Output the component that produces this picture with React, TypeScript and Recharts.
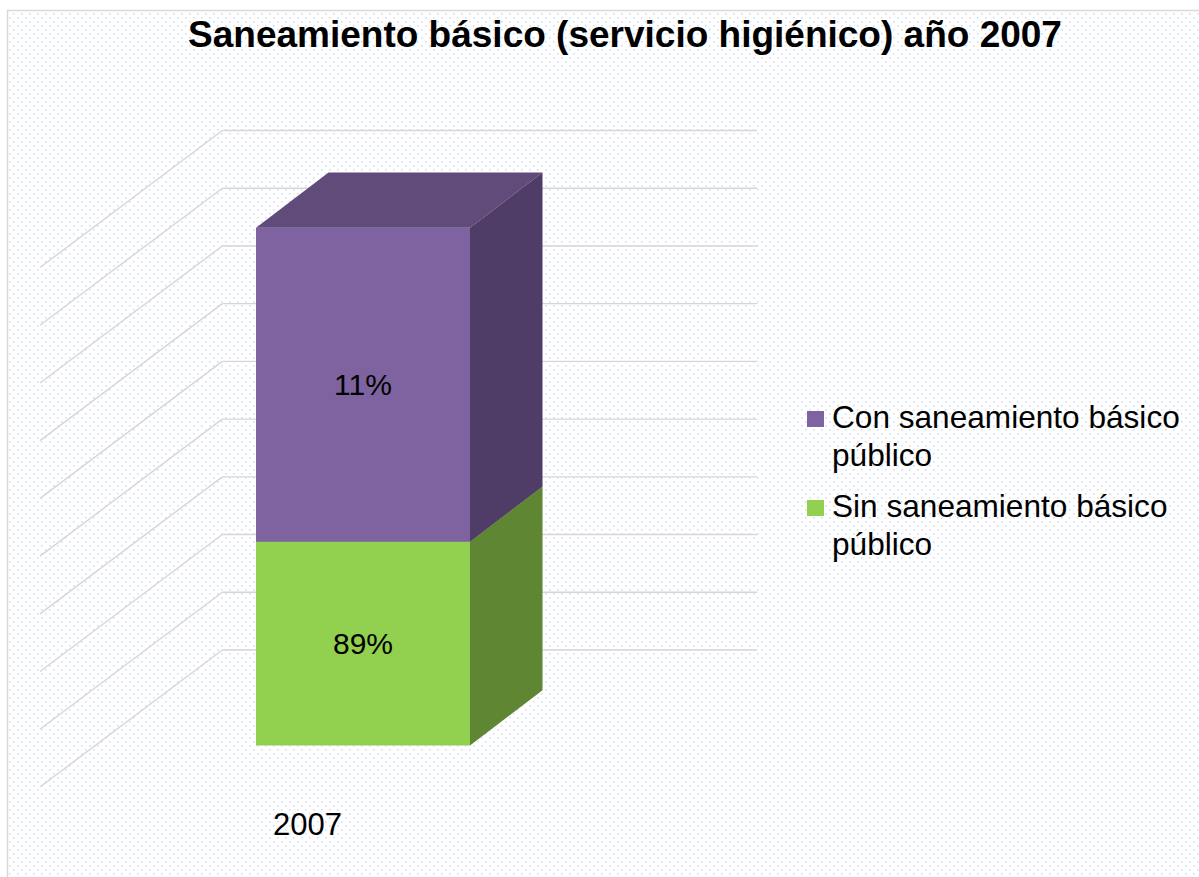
import { BarChart, Bar, XAxis, YAxis, CartesianGrid, LabelList, Legend } from "recharts";

const categories = ["2007"];
const sinValues = [35.3];
const conValues = [54.4];
const sinLabels = ["89%"];
const conLabels = ["11%"];
const seriesNames = ["Sin saneamiento básico público", "Con saneamiento básico público"];
const yTicks = [0, 10, 20, 30, 40, 50, 60, 70, 80, 90];

const data = categories.map((c, i) => ({
    year: c,
    sin: sinValues[i],
    con: conValues[i],
    sinLabel: sinLabels[i],
    conLabel: conLabels[i],
}));

const FONT = '"Liberation Sans", Arial, sans-serif';
const W = 1199;
const H = 877;

// 3d offsets (oblique projection, ratio 0.75)
const BAR_DX = 72.5;
const BAR_DY = 55.3;
const BACK_DX = 127.3;
const BACK_DY = 95.5;
const FRONT_DX = 55;
const FRONT_DY = 41.5;

const GREEN = { front: "#92D050", top: "#74A840", side: "#5F8633" };
const PURPLE = { front: "#7F63A0", top: "#604B7B", side: "#4F3D67" };

function Box3D(props: any) {
    const { x, y, width, height, colors } = props;
    const r = x + width;
    const b = y + height;
    return (
        <g>
            <rect x={x} y={y} width={width} height={height} fill={colors.front} />
            <polygon
                points={`${x},${y} ${r},${y} ${r + BAR_DX},${y - BAR_DY} ${x + BAR_DX},${y - BAR_DY}`}
                fill={colors.top}
            />
            <polygon
                points={`${r},${y} ${r + BAR_DX},${y - BAR_DY} ${r + BAR_DX},${b - BAR_DY} ${r},${b}`}
                fill={colors.side}
            />
        </g>
    );
}

function GridLine(props: any) {
    const { x1, x2, y1 } = props;
    const by = y1 - BACK_DY;
    return (
        <g key={props.key}>
            <line x1={x1 + BACK_DX} y1={by} x2={x2 + BACK_DX} y2={by} stroke="#d6d6d6" strokeWidth={1.4} />
            <line x1={x1 + BACK_DX} y1={by} x2={x1 - FRONT_DX} y2={y1 + FRONT_DY} stroke="#d6d6d6" strokeWidth={1.4} />
        </g>
    );
}

function YearTick(props: any) {
    const { x, y, payload } = props;
    return (
        <text x={x - FRONT_DX} y={y + 89.5} textAnchor="middle" fontSize={31} fontFamily={FONT} fill="#000">
            {payload.value}
        </text>
    );
}

function LegendBox() {
    const items = [
        { name: seriesNames[1], color: PURPLE.front },
        { name: seriesNames[0], color: GREEN.front },
    ];
    return (
        <div style={{ fontFamily: FONT, fontSize: 31.6, lineHeight: "38px", color: "#000" }}>
            {items.map((it, i) => (
                <div key={i} style={{ display: "flex", marginBottom: 13 }}>
                    <div style={{ width: 17, height: 16, marginTop: 13, marginRight: 8, background: it.color, flexShrink: 0 }} />
                    <div style={{ width: 362 }}>{it.name}</div>
                </div>
            ))}
        </div>
    );
}

export default function App() {
    return (
        <div style={{ position: "absolute", left: 0, top: 0, width: W, height: H }}>
            <svg width={W} height={H} style={{ position: "absolute", left: 0, top: 0 }}>
                <defs>
                    <pattern id="dots" width={8} height={8} patternUnits="userSpaceOnUse">
                        <rect x={1} y={1} width={1.6} height={1.6} fill="#d3def0" />
                        <rect x={5} y={5} width={1.6} height={1.6} fill="#d3def0" />
                    </pattern>
                </defs>
                <rect x={0} y={0} width={W} height={H} fill="#fff" />
                <rect x={7.5} y={10.5} width={W + 10} height={H + 10} fill="url(#dots)" stroke="#d9d9d9" strokeWidth={1.5} />
                <text x={625} y={47} textAnchor="middle" fontSize={37} fontWeight="bold" fontFamily={FONT} fill="#000">
                    Saneamiento básico (servicio higiénico) año 2007
                </text>
            </svg>
            <div style={{ position: "absolute", left: 0, top: 0 }}>
                <BarChart
                    width={W}
                    height={H}
                    data={data}
                    margin={{ top: 226, right: W - 630, bottom: H - 745.5 - 30, left: 95 }}
                >
                    <CartesianGrid vertical={false} horizontal={(p: any) => <GridLine {...p} />} />
                    <XAxis
                        dataKey="year"
                        height={30}
                        axisLine={false}
                        tickLine={false}
                        tickSize={0}
                        tickMargin={0}
                        tick={<YearTick />}
                    />
                    <YAxis hide domain={[0, 90]} ticks={yTicks} />
                    <Legend
                        layout="horizontal"
                        align="center"
                        verticalAlign="middle"
                        wrapperStyle={{ left: 807, top: 398, width: 392 }}
                        content={<LegendBox />}
                    />
                    <Bar
                        dataKey="sin"
                        name={seriesNames[0]}
                        stackId="a"
                        barSize={214}
                        fill={GREEN.front}
                        isAnimationActive={false}
                        shape={(p: any) => <Box3D {...p} colors={GREEN} />}
                    >
                        <LabelList dataKey="sinLabel" position="center" fill="#000" fontSize={30} fontFamily={FONT} />
                    </Bar>
                    <Bar
                        dataKey="con"
                        name={seriesNames[1]}
                        stackId="a"
                        barSize={214}
                        fill={PURPLE.front}
                        isAnimationActive={false}
                        shape={(p: any) => <Box3D {...p} colors={PURPLE} />}
                    >
                        <LabelList dataKey="conLabel" position="center" fill="#000" fontSize={30} fontFamily={FONT} />
                    </Bar>
                </BarChart>
            </div>
        </div>
    );
}
